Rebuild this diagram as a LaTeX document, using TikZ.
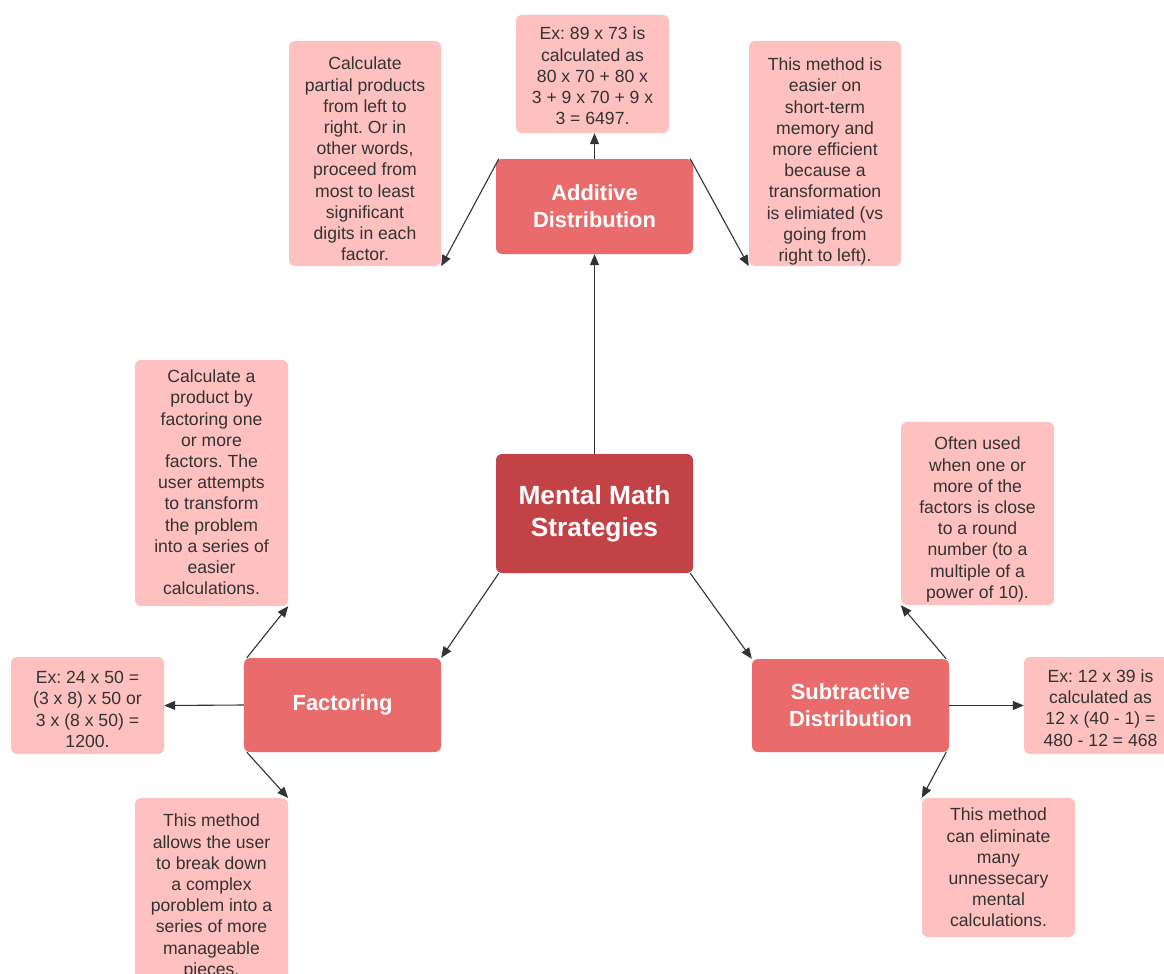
\documentclass[tikz,border=0pt]{standalone}
\usepackage{fontspec}
\setmainfont{Liberation Sans}
\usetikzlibrary{arrows.meta}
\definecolor{pinkbox}{HTML}{FFC0C0}
\definecolor{midred}{HTML}{E96B6B}
\definecolor{darkred}{HTML}{C24246}
\definecolor{txt}{HTML}{333333}
\definecolor{lnk}{HTML}{333333}
\frenchspacing
\begin{document}
\begin{tikzpicture}[x=1pt,y=-1pt,
  detail/.style={fill=pinkbox, draw=none, rounded corners=6pt, inner sep=0pt},
  dtext/.style={text=txt, align=center, inner sep=0pt, yshift=-4pt,
    font=\frenchspacing\fontsize{17.6}{21.2}\selectfont},
  topic/.style={fill=midred, draw=none, rounded corners=6pt, text=white,
    align=center, inner sep=0pt, minimum width=197pt,
    font=\bfseries\fontsize{21.9}{27}\selectfont},
  core/.style={fill=darkred, draw=none, rounded corners=6pt, text=white,
    align=center, inner sep=0pt, minimum width=197pt, minimum height=119pt,
    font=\bfseries\fontsize{26.3}{32}\selectfont},
  link/.style={draw=lnk, line width=1.1pt, -{Triangle[length=11pt,width=9pt]}}
]
\useasboundingbox (0,0) rectangle (1164,974);
\clip (0,0) rectangle (1164,974);

\node[core] (center) at (594.5,513.5) {Mental Math\\Strategies};

\node[topic, minimum height=95pt] (additive) at (594.5,206.5) {Additive\\Distribution};
\node[topic, minimum height=94pt] (factoring) at (342.5,705) {Factoring};
\node[topic, minimum height=93pt] (subtractive) at (850.5,705.5) {Subtractive\\Distribution};

\node[detail, minimum width=153pt, minimum height=118pt,
  label={[dtext, yshift=2pt]center:{Ex: 89 x 73 is\\calculated as\\80 x 70 + 80 x\\3 + 9 x 70 + 9 x\\3 = 6497.}}]
  (ex89) at (592.5,74) {};
\node[detail, minimum width=152pt, minimum height=225pt,
  label={[dtext, yshift=-1.5pt]center:{Calculate\\partial products\\from left to\\right. Or in\\other words,\\proceed from\\most to least\\significant\\digits in each\\factor.}}]
  (lefttop) at (365,153.5) {};
\node[detail, minimum width=152pt, minimum height=225pt,
  label={[dtext, yshift=-4pt]center:{This method is\\easier on\\short-term\\memory and\\more efficient\\because a\\transformation\\is elimiated (vs\\going from\\right to left).}}]
  (righttop) at (825,153.5) {};
\node[detail, minimum width=153pt, minimum height=246pt,
  label={[dtext, yshift=4.5pt]center:{Calculate a\\product by\\factoring one\\or more\\factors. The\\user attempts\\to transform\\the problem\\into a series of\\easier\\calculations.}}]
  (leftmid) at (211.5,483) {};
\node[detail, minimum width=153pt, minimum height=97pt,
  label={[dtext]center:{Ex: 24 x 50 =\\(3 x 8) x 50 or\\3 x (8 x 50) =\\1200.}}]
  (ex24) at (87.5,705.5) {};
\node[detail, minimum width=153pt, minimum height=200pt, anchor=north,
  label={[dtext, anchor=north, yshift=-12pt]north:{This method\\allows the user\\to break down\\a complex\\poroblem into a\\series of more\\manageable\\pieces.}}]
  (botleft) at (211.5,798) {};
\node[detail, minimum width=153pt, minimum height=183pt,
  label={[dtext, yshift=-2pt]center:{Often used\\when one or\\more of the\\factors is close\\to a round\\number (to a\\multiple of a\\power of 10).}}]
  (often) at (977.5,513.5) {};
\node[detail, minimum width=153pt, minimum height=97pt,
  label={[dtext, yshift=1.5pt]center:{Ex: 12 x 39 is\\calculated as\\12 x (40 - 1) =\\480 - 12 = 468}}]
  (ex12) at (1100.5,705.5) {};
\node[detail, minimum width=153pt, minimum height=139pt,
  label={[dtext, yshift=4pt]center:{This method\\can eliminate\\many\\unnessecary\\mental\\calculations.}}]
  (botright) at (998.5,867.5) {};

\draw[link] (center.north) -- (additive.south);
\draw[link] (additive.north) -- (additive.north |- ex89.south);
\draw[link] ([xshift=3pt]additive.north west) -- (lefttop.south east);
\draw[link] ([xshift=-3pt]additive.north east) -- (righttop.south west);
\draw[link] ([xshift=3pt]center.south west) -- (factoring.north east);
\draw[link] ([xshift=-3pt]center.south east) -- (subtractive.north west);
\draw[link] ([xshift=3pt]factoring.north west) -- (leftmid.south east);
\draw[link] (factoring.west) -- (ex24.east);
\draw[link] ([xshift=3pt]factoring.south west) -- (botleft.north east);
\draw[link] ([xshift=-3pt]subtractive.north east) -- (often.south west);
\draw[link] (subtractive.east) -- (ex12.west);
\draw[link] ([xshift=-3pt]subtractive.south east) -- (botright.north west);
\end{tikzpicture}
\end{document}
